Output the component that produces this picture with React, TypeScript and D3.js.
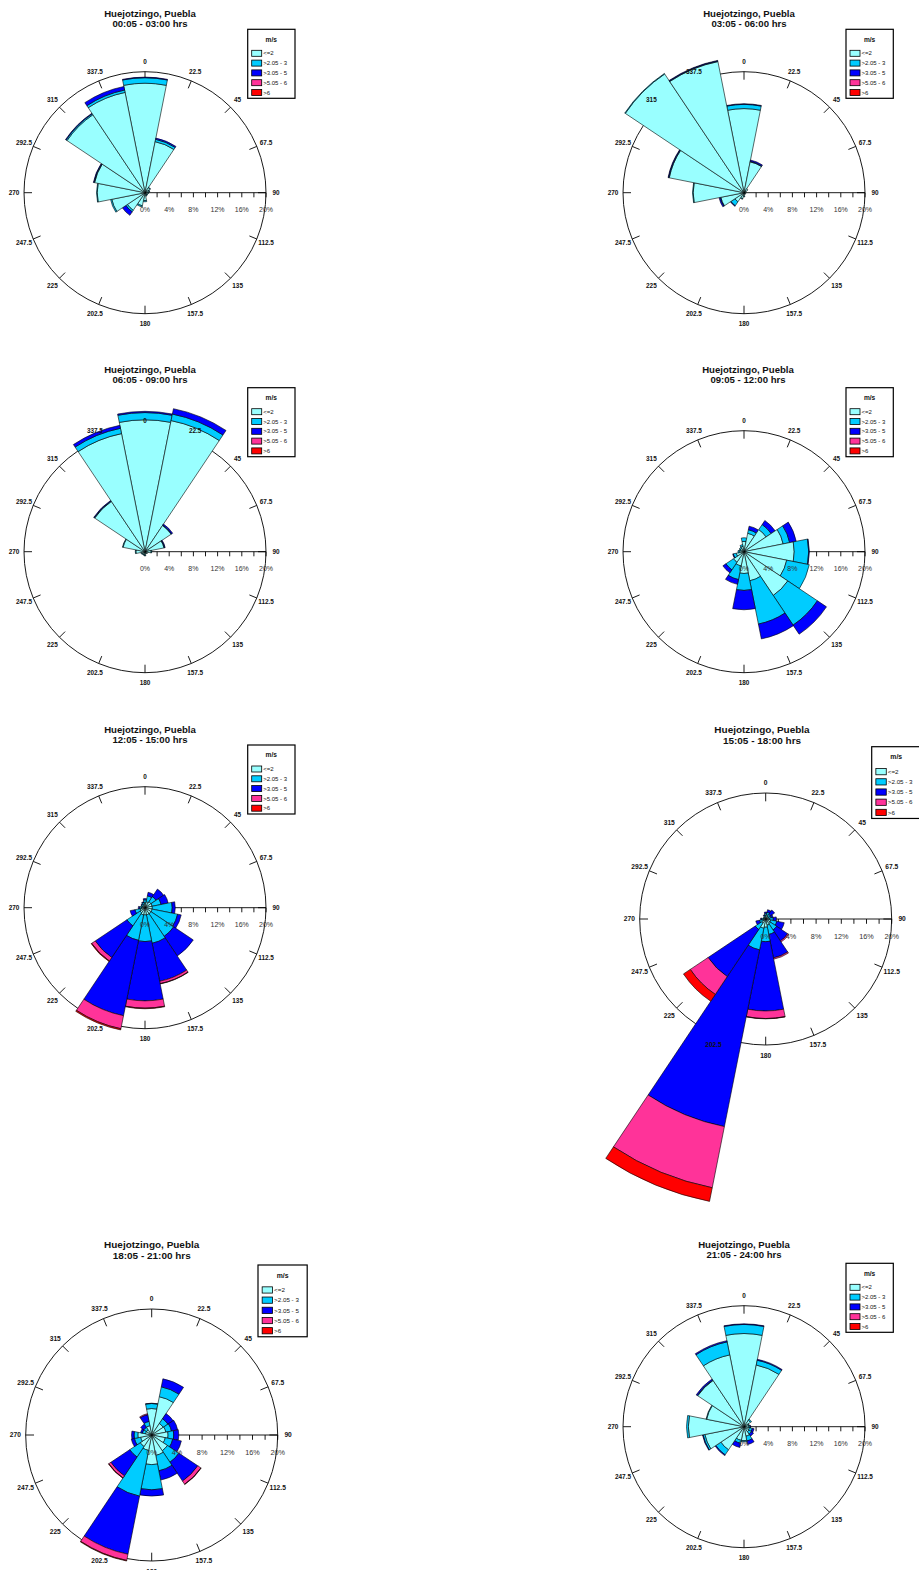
import React from 'react';
import * as d3 from 'd3';

const station = 'Huejotzingo, Puebla';
const directions = [0, 22.5, 45, 67.5, 90, 112.5, 135, 157.5, 180, 202.5, 225, 247.5, 270, 292.5, 315, 337.5];
const speedClasses = ['<=2', '>2.05 - 3', '>3.05 - 5', '>5.05 - 6', '>6'];
const speedColors = ['#99FFFF', '#00CCFF', '#0000FF', '#FF3399', '#FF0000'];
const percentTicks = [0, 4, 8, 12, 16, 20];
const periods = [
  '00:05 - 03:00 hrs', '03:05 - 06:00 hrs', '06:05 - 09:00 hrs', '09:05 - 12:00 hrs',
  '12:05 - 15:00 hrs', '15:05 - 18:00 hrs', '18:05 - 21:00 hrs', '21:05 - 24:00 hrs',
];

// frequency (%) by direction, one row per speed class (<=2, 2-3, 3-5, 5-6, >6)
const freq0003 = [
  [18.1, 8.6, 1.0, 0.7, 0.5, 0.5, 0.4, 0.5, 1.3, 2.2, 3.5, 5.6, 7.9, 8.5, 15.5, 16.9],
  [0.9, 0.4, 0.1, 0.1, 0.1, 0, 0.1, 0.1, 0.2, 0.2, 0.3, 0.2, 0.1, 0.1, 0.2, 0.4],
  [0.1, 0.2, 0, 0, 0, 0, 0, 0, 0, 0, 0.7, 0, 0, 0.1, 0.1, 0.6],
  [0, 0, 0, 0, 0, 0, 0, 0, 0, 0, 0, 0, 0, 0, 0, 0],
  [0, 0, 0, 0, 0, 0, 0, 0, 0, 0, 0, 0, 0, 0, 0, 0],
];
const freq0306 = [
  [13.9, 5.2, 0.8, 0.4, 0.3, 0.3, 0.3, 0.3, 0.6, 1.0, 1.8, 3.9, 8.4, 12.6, 23.6, 22.1],
  [0.7, 0.1, 0, 0, 0, 0, 0, 0, 0.1, 0.1, 0.8, 0.1, 0.1, 0.1, 0.1, 0.1],
  [0.1, 0.2, 0, 0, 0, 0, 0, 0, 0, 0, 0.1, 0.2, 0, 0.1, 0, 0.1],
  [0, 0, 0, 0, 0, 0, 0, 0, 0, 0, 0, 0, 0, 0, 0, 0],
  [0, 0, 0, 0, 0, 0, 0, 0, 0, 0, 0, 0, 0, 0, 0, 0],
];
const freq0609 = [
  [21.8, 22.1, 5.2, 3.2, 1.0, 0.5, 0.4, 0.4, 0.6, 0.5, 0.5, 0.6, 1.5, 3.7, 10.0, 19.9],
  [1.2, 1.1, 0.1, 0.1, 0.1, 0, 0, 0, 0.1, 0.1, 0.1, 0.1, 0.1, 0.1, 0.1, 0.9],
  [0.2, 0.9, 0.2, 0.1, 0, 0, 0, 0, 0, 0, 0, 0, 0, 0, 0.1, 0.5],
  [0, 0, 0, 0, 0, 0, 0, 0, 0, 0, 0, 0, 0, 0, 0, 0],
  [0, 0, 0, 0, 0, 0, 0, 0, 0, 0, 0, 0, 0, 0, 0, 0],
];
const freq0912 = [
  [1.7, 3.1, 4.4, 6.6, 8.3, 7.2, 8.7, 4.9, 3.6, 2.4, 2.1, 1.3, 0.8, 0.6, 0.7, 0.9],
  [0.6, 0.6, 1.0, 1.1, 2.4, 3.8, 5.9, 7.3, 2.8, 2.3, 1.5, 0.5, 0.2, 0.2, 0.2, 0.3],
  [0, 0.6, 0.8, 1.1, 0.1, 0, 1.8, 2.5, 3.2, 0.8, 0.6, 0.1, 0, 0, 0, 0],
  [0, 0, 0, 0, 0, 0, 0, 0, 0, 0, 0, 0, 0, 0, 0, 0],
  [0, 0, 0, 0, 0, 0, 0, 0, 0, 0, 0, 0, 0, 0, 0, 0],
];
const freq1215 = [
  [0.8, 1.0, 1.2, 1.2, 1.2, 1.2, 1.2, 1.2, 1.2, 1.2, 1.0, 0.8, 0.6, 0.5, 0.5, 0.6],
  [0.5, 1.0, 1.0, 1.5, 3.3, 4.3, 4.5, 4.8, 4.4, 4.3, 2.6, 0.9, 0.3, 0.2, 0.2, 0.3],
  [0.2, 0.6, 1.5, 1.2, 0.5, 0.6, 3.9, 6.4, 9.8, 12.7, 6.3, 0.8, 0.2, 0, 0.1, 0.1],
  [0, 0, 0, 0, 0, 0, 0, 0.4, 1.2, 2.2, 0.7, 0, 0, 0, 0, 0],
  [0, 0, 0, 0, 0, 0, 0, 0.05, 0.1, 0.2, 0.1, 0, 0, 0, 0, 0],
];
const freq1518 = [
  [0.6, 0.7, 0.5, 0.5, 0.6, 0.8, 0.9, 1.0, 1.3, 1.5, 0.8, 0.5, 0.4, 0.3, 0.3, 0.4],
  [0.3, 0.4, 0.4, 0.4, 0.6, 1.0, 1.2, 1.5, 2.3, 3.5, 1.2, 0.5, 0.3, 0.1, 0.1, 0.2],
  [0.2, 0.4, 0.8, 0.3, 0.5, 1.2, 2.1, 3.8, 11.0, 28.6, 9.0, 0.6, 0.1, 0, 0, 0.1],
  [0, 0, 0, 0, 0, 0, 0.2, 0.2, 1.2, 9.9, 3.4, 0, 0, 0, 0, 0],
  [0, 0, 0, 0, 0, 0, 0, 0, 0.05, 2.2, 1.3, 0, 0, 0, 0, 0],
];
const freq1821 = [
  [4.2, 6.2, 2.2, 2.3, 2.6, 2.2, 3.0, 3.3, 4.7, 2.5, 2.2, 1.8, 2.2, 1.0, 1.0, 1.5],
  [0.8, 1.6, 0.9, 0.9, 0.9, 1.2, 2.2, 2.5, 4.0, 7.4, 2.0, 1.0, 0.6, 0.5, 0.5, 0.7],
  [0.05, 1.3, 1.0, 1.0, 0.8, 1.4, 3.6, 1.5, 1.0, 9.4, 3.6, 0.5, 0.4, 0.3, 0.6, 1.1],
  [0, 0, 0, 0, 0, 0, 0.6, 0, 0, 1.0, 0.4, 0, 0, 0, 0, 0.15],
  [0, 0, 0, 0, 0, 0, 0.05, 0, 0, 0.1, 0.05, 0, 0, 0, 0, 0],
];
const freq2124 = [
  [15.4, 10.4, 1.3, 0.8, 0.8, 0.9, 1.0, 1.6, 2.3, 2.3, 4.6, 6.6, 9.2, 6.3, 9.2, 12.1],
  [1.5, 0.8, 0.2, 0.1, 0.2, 0.5, 0.5, 0.8, 0.2, 0.5, 1.0, 0.3, 0.3, 0.1, 0.1, 2.2],
  [0.1, 0.15, 0, 0, 0.1, 0.3, 0.4, 0.6, 0, 0.7, 0.15, 0.1, 0, 0, 0.2, 0.2],
  [0, 0, 0, 0, 0, 0, 0, 0, 0, 0, 0, 0, 0, 0, 0, 0],
  [0, 0, 0, 0, 0, 0, 0, 0, 0, 0, 0, 0, 0, 0, 0, 0],
];

const roses = [freq0003, freq0306, freq0609, freq0912, freq1215, freq1518, freq1821, freq2124];

// placement of each rose on the page
const layout = [
  { cx: 145, cy: 192.7, r: 121, k: 1, tx: 150, ty: 14, lx: 247.7, ly: 29.3 },
  { cx: 744, cy: 192.7, r: 121, k: 1, tx: 749, ty: 14, lx: 846, ly: 29.3 },
  { cx: 145, cy: 551.7, r: 121, k: 1, tx: 150, ty: 370, lx: 247.7, ly: 387.7 },
  { cx: 744, cy: 551.7, r: 121, k: 1, tx: 748, ty: 370, lx: 846, ly: 387.7 },
  { cx: 145, cy: 907.7, r: 121, k: 1, tx: 150, ty: 730, lx: 247.7, ly: 745 },
  { cx: 765.7, cy: 919, r: 126, k: 1.04, tx: 762, ty: 730, lx: 871.7, ly: 746.7 },
  { cx: 151.7, cy: 1435, r: 126, k: 1.04, tx: 151.7, ty: 1245, lx: 258, ly: 1265 },
  { cx: 744, cy: 1426.7, r: 121, k: 1, tx: 744, ty: 1245, lx: 846, ly: 1263.3 },
];

const FONT = "'Liberation Sans', Arial, sans-serif";
const rad = (deg: number) => (deg * Math.PI) / 180;

const WindRose = ({ freq, period, cx, cy, r, k, tx, ty, lx, ly }: any) => {
  const rScale = d3.scaleLinear().domain([0, 20]).range([0, r]);
  const arc = d3.arc<any>();
  const half = 360 / directions.length / 2;

  const wedges: any[] = [];
  directions.forEach((dir, i) => {
    let acc = 0;
    freq.forEach((row: number[], j: number) => {
      const v = row[i];
      if (v > 0) {
        wedges.push({
          key: `${i}-${j}`,
          fill: speedColors[j],
          d: arc({
            innerRadius: rScale(acc),
            outerRadius: rScale(acc + v),
            startAngle: rad(dir - half),
            endAngle: rad(dir + half),
          }),
        });
      }
      acc += v;
    });
  });

  const labelR = r + 10 * k;
  const axisTicks = rScale.ticks(10).filter(t => t > 0);

  return (
    <g>
      <text x={tx} y={ty} dy="0.35em" textAnchor="middle" fontFamily={FONT} fontWeight="bold"
        fontSize={9.6 * k} fill="#111">{station}</text>
      <text x={tx} y={ty + 10 * k} dy="0.35em" textAnchor="middle" fontFamily={FONT} fontWeight="bold"
        fontSize={9.6 * k} fill="#111">{period}</text>

      <g transform={`translate(${cx},${cy})`}>
        <circle r={r} fill="none" stroke="#000" strokeWidth={0.9} />
        {directions.map(dir => {
          const s = Math.sin(rad(dir)), c = -Math.cos(rad(dir));
          return (
            <line key={dir} x1={(r - 8 * k) * s} y1={(r - 8 * k) * c} x2={r * s} y2={r * c}
              stroke="#000" strokeWidth={0.9} />
          );
        })}
        <line x1={0} y1={0} x2={r} y2={0} stroke="#000" strokeWidth={0.9} />
        {axisTicks.map(t => (
          <line key={t} x1={rScale(t)} y1={0} x2={rScale(t)} y2={4.6 * k} stroke="#000" strokeWidth={0.9} />
        ))}

        {wedges.map(w => (
          <path key={w.key} d={w.d} fill={w.fill} stroke="#000" strokeWidth={0.6} strokeLinejoin="round" />
        ))}

        {directions.map(dir => (
          <text key={dir} x={labelR * Math.sin(rad(dir))} y={-labelR * Math.cos(rad(dir))} dy="0.35em"
            textAnchor="middle" fontFamily={FONT} fontWeight="bold" fontSize={6.4 * k} fill="#111">
            {String(dir)}
          </text>
        ))}
        {percentTicks.map(t => (
          <text key={t} x={rScale(t)} y={16.6 * k} dy="0.35em" textAnchor="middle" fontFamily={FONT}
            fontSize={7 * k} fill="#333">{`${t}%`}</text>
        ))}
      </g>

      <g transform={`translate(${lx},${ly})`}>
        <rect width={47.3 * k} height={69 * k} fill="#fff" stroke="#000" strokeWidth={1.2} />
        <text x={23.6 * k} y={10 * k} dy="0.35em" textAnchor="middle" fontFamily={FONT} fontWeight="bold"
          fontSize={6.6 * k} fill="#111">m/s</text>
        {speedClasses.map((label, i) => {
          const y = (24 + 9.8 * i) * k;
          return (
            <g key={label}>
              <rect x={4 * k} y={y - 3 * k} width={10 * k} height={6 * k} fill={speedColors[i]}
                stroke="#000" strokeWidth={0.8} />
              <text x={15.5 * k} y={y} dy="0.35em" fontFamily={FONT} fontSize={6 * k} fill="#111">{label}</text>
            </g>
          );
        })}
      </g>
    </g>
  );
};

export default function App() {
  return (
    <svg width={919} height={1570} viewBox="0 0 919 1570"
      style={{ position: 'absolute', left: 0, top: 0, background: '#fff' }}>
      <rect width={919} height={1570} fill="#fff" />
      {roses.map((freq, i) => (
        <WindRose key={periods[i]} freq={freq} period={periods[i]} {...layout[i]} />
      ))}
    </svg>
  );
}
